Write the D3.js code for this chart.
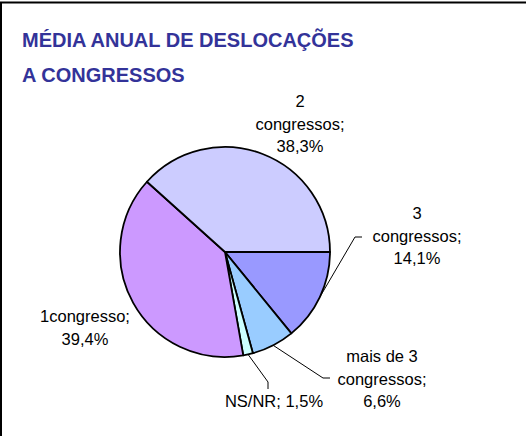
<!DOCTYPE html>
<html>
<head>
<meta charset="utf-8">
<script src="https://cdn.jsdelivr.net/npm/d3@7"></script>
<style>
  html, body { margin: 0; padding: 0; background: #fff; }
  svg { display: block; }
</style>
</head>
<body>
<svg id="chart" width="526" height="436"></svg>
<script>
// ---- data ----
const categories = ["3 congressos", "mais de 3 congressos", "NS/NR", "1congresso", "2 congressos"];
const values = [14.1, 6.6, 1.5, 39.4, 38.3];
const colors = ["#9999FF", "#99CCFF", "#CCFFFF", "#CC99FF", "#CCCCFF"];
const labelLines = [
  ["3", "congressos;", "14,1%"],
  ["mais de 3", "congressos;", "6,6%"],
  ["NS/NR; 1,5%"],
  ["1congresso;", "39,4%"],
  ["2", "congressos;", "38,3%"]
];
const titleLines = ["MÉDIA ANUAL DE DESLOCAÇÕES", "A CONGRESSOS"];

// ---- layout (positions kept separate from data) ----
const cx = 225, cy = 252, R = 105;
const labelLayout = [
  { x: 417, y: 219, leader: [[355, 237], [362, 237]] },
  { x: 382, y: 362, leader: [[323, 378], [330, 378]] },
  { x: 274, y: 407, leader: [[268, 382], [268, 389]] },
  { x: 85,  y: 322, leader: null },
  { x: 300, y: 107, leader: null }
];
const lineH = 22.5;

const svg = d3.select("#chart");

// frame (only top & left visible)
svg.append("rect")
  .attr("x", 1).attr("y", 2.5)
  .attr("width", 600).attr("height", 600)
  .attr("fill", "none").attr("stroke", "#000").attr("stroke-width", 2);

// title
svg.append("g").selectAll("text").data(titleLines).join("text")
  .attr("x", 22)
  .attr("y", (d, i) => 47 + i * 35)
  .attr("font-family", "Liberation Sans, Arial, sans-serif")
  .attr("font-weight", "bold")
  .attr("font-size", 20)
  .attr("fill", "#333399")
  .text(d => d);

// pie
const pie = d3.pie().sort(null).value(d => d)
  .startAngle(Math.PI / 2).endAngle(Math.PI / 2 + 2 * Math.PI);
const arcs = pie(values);
const arc = d3.arc().innerRadius(0).outerRadius(R);

const g = svg.append("g").attr("transform", `translate(${cx},${cy})`);
g.selectAll("path").data(arcs).join("path")
  .attr("d", arc)
  .attr("fill", (d, i) => colors[i])
  .attr("stroke", "#000")
  .attr("stroke-width", 1.8)
  .attr("stroke-linejoin", "round");

// leader lines
const leaderGen = d3.line();
arcs.forEach((a, i) => {
  const L = labelLayout[i];
  if (!L.leader) return;
  const mid = (a.startAngle + a.endAngle) / 2;
  const start = [cx + R * Math.sin(mid), cy - R * Math.cos(mid)];
  svg.append("path")
    .attr("d", leaderGen([start, ...L.leader]))
    .attr("fill", "none")
    .attr("stroke", "#000")
    .attr("stroke-width", 1);
});

// labels
arcs.forEach((a, i) => {
  const L = labelLayout[i];
  svg.append("g").selectAll("text").data(labelLines[i]).join("text")
    .attr("x", L.x)
    .attr("y", (d, j) => L.y + j * lineH)
    .attr("text-anchor", "middle")
    .attr("font-family", "Liberation Sans, Arial, sans-serif")
    .attr("font-size", 16.5)
    .attr("fill", "#000")
    .text(d => d);
});
</script>
</body>
</html>
